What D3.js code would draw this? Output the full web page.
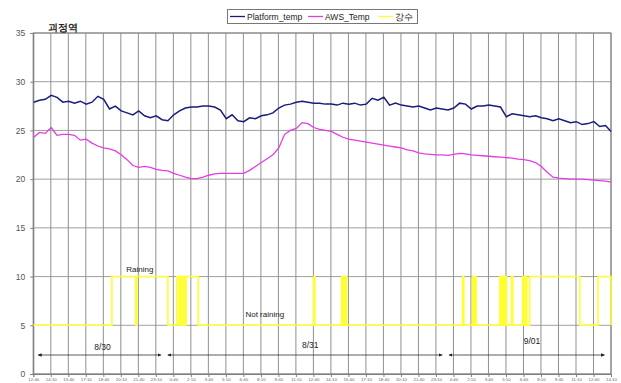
<!DOCTYPE html>
<html><head><meta charset="utf-8">
<script src="https://cdn.jsdelivr.net/npm/d3@7"></script>
<style>body{margin:0;background:#fff}svg{display:block}text{font-family:"Liberation Sans",Arial,sans-serif}</style>
</head><body><svg id="c" width="621" height="383"></svg>
<script>
// ---------- data ----------
const chartTitle = "괴정역";
const seriesNames = ["Platform_temp", "AWS_Temp", "강수"];
// hours counted from 8/30 00:00
const xDomainHours = [12.667, 62.167];
const xTickHours = [12.667,14.167,15.667,17.167,18.667,20.167,21.667,23.167,24.667,26.167,27.667,29.167,30.667,32.167,33.667,35.167,36.667,38.167,39.667,41.167,42.667,44.167,45.667,47.167,48.667,50.167,51.667,53.167,54.667,56.167,57.667,59.167,60.667,62.167];
const xTickLabels = ["12:40","14:10","15:40","17:10","18:40","20:10","21:40","23:10","0:40","2:10","3:40","5:10","6:40","8:10","9:40","11:10","12:40","14:10","15:40","17:10","18:40","20:10","21:40","23:10","0:40","2:10","3:40","5:10","6:40","8:10","9:40","11:10","12:40","14:10"];
const yTicks = [0, 5, 10, 15, 20, 25, 30, 35];

const platformTemp = [[12.7,27.9],[13.2,28.1],[13.7,28.2],[14.2,28.6],[14.7,28.4],[15.2,27.9],[15.7,28.0],[16.2,27.8],[16.7,28.0],[17.2,27.7],[17.7,27.9],[18.2,28.5],[18.7,28.2],[19.2,27.2],[19.7,27.5],[20.2,27.0],[20.7,26.8],[21.2,26.6],[21.7,27.0],[22.2,26.5],[22.7,26.3],[23.2,26.5],[23.7,26.1],[24.2,26.0],[24.7,26.6],[25.2,27.0],[25.7,27.3],[26.2,27.4],[26.7,27.4],[27.2,27.5],[27.7,27.5],[28.2,27.4],[28.7,27.1],[29.2,26.2],[29.7,26.6],[30.2,26.0],[30.7,25.9],[31.2,26.3],[31.7,26.2],[32.2,26.5],[32.7,26.6],[33.2,26.8],[33.7,27.3],[34.2,27.6],[34.7,27.7],[35.2,27.9],[35.7,28.0],[36.2,27.9],[36.7,27.8],[37.2,27.8],[37.7,27.7],[38.2,27.7],[38.7,27.6],[39.2,27.8],[39.7,27.7],[40.2,27.8],[40.7,27.6],[41.2,27.7],[41.7,28.3],[42.2,28.1],[42.7,28.4],[43.2,27.6],[43.7,27.8],[44.2,27.6],[44.7,27.5],[45.2,27.4],[45.7,27.5],[46.2,27.3],[46.7,27.1],[47.2,27.3],[47.7,27.2],[48.2,27.1],[48.7,27.3],[49.2,27.8],[49.7,27.7],[50.2,27.2],[50.7,27.5],[51.2,27.5],[51.7,27.6],[52.2,27.5],[52.7,27.4],[53.2,26.4],[53.7,26.7],[54.2,26.6],[54.7,26.5],[55.2,26.4],[55.7,26.5],[56.2,26.3],[56.7,26.2],[57.2,26.0],[57.7,26.2],[58.2,26.0],[58.7,25.8],[59.2,25.9],[59.7,25.6],[60.2,25.7],[60.7,25.9],[61.2,25.4],[61.7,25.5],[62.17,24.9]];

const awsTemp = [[12.7,24.3],[13.2,24.8],[13.7,24.7],[14.2,25.3],[14.7,24.5],[15.2,24.6],[15.7,24.6],[16.2,24.5],[16.7,24.0],[17.2,24.1],[17.7,23.7],[18.2,23.4],[18.7,23.2],[19.2,23.1],[19.7,22.9],[20.2,22.5],[20.7,22.0],[21.2,21.4],[21.7,21.2],[22.2,21.3],[22.7,21.2],[23.2,21.0],[23.7,20.9],[24.2,20.85],[24.7,20.6],[25.2,20.4],[25.7,20.2],[26.2,20.05],[26.7,20.05],[27.2,20.2],[27.7,20.4],[28.2,20.55],[28.7,20.6],[29.2,20.6],[29.7,20.6],[30.2,20.6],[30.7,20.6],[31.2,20.9],[31.7,21.3],[32.2,21.7],[32.7,22.1],[33.2,22.5],[33.7,23.2],[34.2,24.6],[34.7,25.0],[35.2,25.2],[35.7,25.8],[36.2,25.7],[36.7,25.3],[37.2,25.1],[37.7,25.0],[38.2,24.9],[38.7,24.6],[39.2,24.3],[39.7,24.1],[40.2,24.0],[40.7,23.9],[41.2,23.8],[41.7,23.7],[42.2,23.6],[42.7,23.5],[43.2,23.4],[43.7,23.3],[44.2,23.2],[44.7,23.0],[45.2,22.9],[45.7,22.7],[46.2,22.6],[46.7,22.55],[47.2,22.5],[47.7,22.5],[48.2,22.45],[48.7,22.55],[49.2,22.65],[49.7,22.6],[50.2,22.5],[50.7,22.45],[51.2,22.4],[51.7,22.35],[52.2,22.3],[52.7,22.25],[53.2,22.2],[53.7,22.15],[54.2,22.05],[54.7,22.0],[55.2,21.9],[55.7,21.7],[56.2,21.3],[56.7,20.7],[57.2,20.2],[57.7,20.1],[58.2,20.05],[58.7,20.0],[59.2,20.0],[59.7,20.0],[60.2,19.95],[60.7,19.9],[61.2,19.85],[61.7,19.8],[62.17,19.7]];

// rain indicator: 5 = not raining, 10 = raining; intervals of raining (hours)
const rainLevelOff = 5, rainLevelOn = 10;
const rainStart = [19.4,21.55,24.95,25.25,25.5,25.75,36.7,39.1,39.25,39.4,49.45,50.3,50.5,52.65,52.8,52.95,53.1,53.65,54.6,54.85,55.2,61.05];
const rainEnd   = [21.45,24.2,25.15,25.4,25.65,26.8,36.8,39.2,39.35,39.5,49.55,50.4,50.6,52.75,52.9,53.05,53.2,53.75,54.7,54.95,59.5,62.167];

const annoLabels = ["Raining", "Not raining"];
const annoHours = [21.8, 32.5];
const annoValues = [10.5, 5.9];

const dayLabels = ["8/30", "8/31", "9/01"];
const daySpanStart = [13.1, 24.2, 48.3];
const daySpanEnd = [23.6, 47.7, 61.6];
const dayLabelHours = [18.6, 36.4, 55.4];
const dayLabelValue = [2.45, 2.65, 3.1];
const dayArrowValue = 1.95;

// ---------- styles ----------
const colPlatform = "#1b1b7c", colAws = "#e43ce4", colRain = "#ffff2e";

const svg = d3.select("#c");
const L = 33.3, R = 611, T = 33, B = 374;
const x = d3.scaleLinear().domain(xDomainHours).range([L, R]);
const y = d3.scaleLinear().domain([0, 35]).range([B, T]);

// gridlines
svg.append("g").selectAll("line").data(yTicks).join("line")
  .attr("x1", L).attr("x2", R).attr("y1", d => y(d)).attr("y2", d => y(d))
  .attr("stroke", "#a0a0a0").attr("stroke-width", 1);
svg.append("g").selectAll("line").data(xTickHours).join("line")
  .attr("x1", d => x(d)).attr("x2", d => x(d)).attr("y1", T).attr("y2", B)
  .attr("stroke", "#909090").attr("stroke-width", 1);
svg.append("rect").attr("x", L).attr("y", T).attr("width", R - L).attr("height", B - T)
  .attr("fill", "none").attr("stroke", "#808080");

// axes
const yAxis = d3.axisLeft(y).tickValues(yTicks).tickSize(3).tickFormat(d3.format("d"));
const gy = svg.append("g").attr("transform", `translate(${L},0)`).call(yAxis);
gy.select(".domain").attr("stroke", "#808080");
gy.selectAll(".tick line").attr("stroke", "#808080");
gy.selectAll("text").attr("font-size", 8.5).attr("fill", "#555").attr("x", -8);

const xAxis = d3.axisBottom(x).tickValues(xTickHours).tickSize(3)
  .tickFormat((d, i) => xTickLabels[i]);
const gx = svg.append("g").attr("transform", `translate(0,${B})`).call(xAxis);
gx.select(".domain").attr("stroke", "#808080");
gx.selectAll(".tick line").attr("stroke", "#808080");
gx.selectAll("text").attr("font-size", 4.4).attr("fill", "#666").attr("y", 4);

// rain step line
const rainPts = [[xDomainHours[0], rainLevelOff]];
rainStart.forEach((s, i) => {
  rainPts.push([s, rainLevelOff], [s, rainLevelOn], [rainEnd[i], rainLevelOn], [rainEnd[i], rainLevelOff]);
});
rainPts.push([xDomainHours[1], rainLevelOff]);
const line = d3.line().x(d => x(d[0])).y(d => y(d[1]));
svg.append("path").attr("d", line(rainPts)).attr("fill", "none")
  .attr("stroke", colRain).attr("stroke-width", 1.6);

svg.append("path").attr("d", line(awsTemp)).attr("fill", "none")
  .attr("stroke", colAws).attr("stroke-width", 1.3);
svg.append("path").attr("d", line(platformTemp)).attr("fill", "none")
  .attr("stroke", colPlatform).attr("stroke-width", 1.5);

// annotations
svg.append("g").selectAll("text").data(annoLabels).join("text")
  .attr("x", (d, i) => x(annoHours[i])).attr("y", (d, i) => y(annoValues[i]))
  .attr("text-anchor", "middle").attr("font-size", 8).attr("fill", "#222").text(d => d);

const defs = svg.append("defs");
defs.append("marker").attr("id", "ah").attr("viewBox", "0 0 6 6").attr("refX", 5).attr("refY", 3)
  .attr("markerWidth", 5).attr("markerHeight", 5).attr("orient", "auto-start-reverse")
  .append("path").attr("d", "M0,0.5 L6,3 L0,5.5 Z").attr("fill", "#222");
const gd = svg.append("g");
dayLabels.forEach((lab, i) => {
  gd.append("line").attr("x1", x(daySpanStart[i])).attr("x2", x(daySpanEnd[i]))
    .attr("y1", y(dayArrowValue)).attr("y2", y(dayArrowValue))
    .attr("stroke", "#333").attr("stroke-width", 0.8)
    .attr("marker-start", "url(#ah)").attr("marker-end", "url(#ah)");
  gd.append("text").attr("x", x(dayLabelHours[i])).attr("y", y(dayLabelValue[i]))
    .attr("text-anchor", "middle").attr("font-size", 8.5).attr("fill", "#222").text(lab);
});

// title
svg.append("text").attr("x", 48).attr("y", 31).attr("font-size", 9.5).attr("font-weight", "bold")
  .attr("font-family", "'Noto Sans CJK KR', sans-serif").attr("fill", "#222").text(chartTitle);

// legend
const lg = svg.append("g");
lg.append("rect").attr("x", 227.5).attr("y", 9.5).attr("width", 190).attr("height", 14)
  .attr("fill", "#fff").attr("stroke", "#777");
const legX = [230, 308, 378];
const legCols = [colPlatform, colAws, colRain];
seriesNames.forEach((n, i) => {
  lg.append("line").attr("x1", legX[i]).attr("x2", legX[i] + 15).attr("y1", 16.5).attr("y2", 16.5)
    .attr("stroke", legCols[i]).attr("stroke-width", 1.3);
  lg.append("text").attr("x", legX[i] + 17).attr("y", 19.5).attr("font-size", 8.5).attr("fill", "#222")
    .attr("font-family", i === 2 ? "'Noto Sans CJK KR', sans-serif" : null).text(n);
});
</script></body></html>
